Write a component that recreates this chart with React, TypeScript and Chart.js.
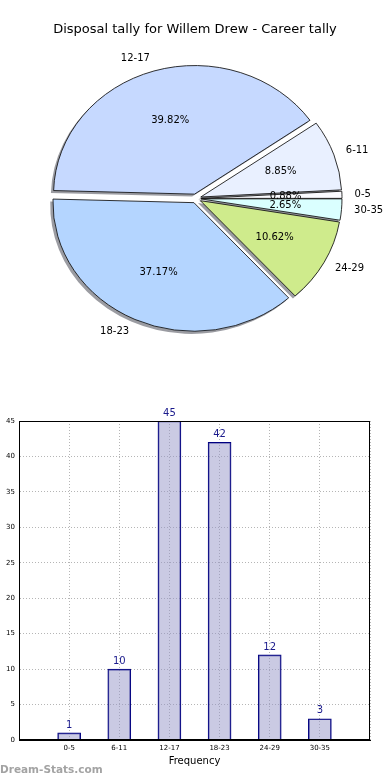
import React, { useEffect, useRef } from 'react';
import { Chart, registerables } from 'chart.js';

Chart.register(...registerables);

// ---- data ----
const titleText = 'Disposal tally for Willem Drew - Career tally';
const categories = ['0-5', '6-11', '12-17', '18-23', '24-29', '30-35'];
const frequencies = [1, 10, 45, 42, 12, 3];
const sliceColors = ['#fbfbff', '#e9f0ff', '#c6d9ff', '#b4d5ff', '#cfeb8c', '#daffff'];
const yTickStep = 5;
const yMax = 45;
const xAxisTitle = 'Frequency';
const watermark = 'Dream-Stats.com';

// ---- styling constants ----
const FONT = "'DejaVu Sans', sans-serif";
const EXPLODE = 5;
const PIE_R = 141;
const PIE_SY = 0.912;

const total = frequencies.reduce((a, b) => a + b, 0);
// Chart.js draws clockwise; the reference goes counter-clockwise from 3 o'clock.
const pieLabels = [...categories].reverse();
const pieValues = [...frequencies].reverse();
const pieColors = [...sliceColors].reverse();

const piePlugin = {
  id: 'pieDecor',
  beforeDatasetsDraw(chart: any) {
    const ctx = chart.ctx;
    const meta = chart.getDatasetMeta(0);
    meta.data.forEach((el: any) => {
      if (!el.__exploded) {
        const base = el.draw;
        el.draw = function (c: CanvasRenderingContext2D, area: any) {
          const mid = (this.startAngle + this.endAngle) / 2;
          c.save();
          c.translate(Math.cos(mid) * EXPLODE, Math.sin(mid) * EXPLODE);
          base.call(this, c, area);
          c.restore();
        };
        el.__exploded = true;
      }
    });
    const cy = meta.data[0].y;
    ctx.save();
    ctx.translate(0, cy);
    ctx.scale(1, PIE_SY);
    ctx.translate(0, -cy);
    // shadows (beneath every wedge)
    meta.data.forEach((el: any) => {
      const mid = (el.startAngle + el.endAngle) / 2;
      const ox = el.x + Math.cos(mid) * EXPLODE - 2.4;
      const oy = el.y + Math.sin(mid) * EXPLODE + 2.6;
      ctx.beginPath();
      ctx.moveTo(ox, oy);
      ctx.arc(ox, oy, el.outerRadius + 0.3, el.startAngle, el.endAngle);
      ctx.closePath();
      ctx.fillStyle = 'rgba(45,48,60,0.48)';
      ctx.fill();
    });
  },
  afterDatasetsDraw(chart: any) {
    const ctx = chart.ctx;
    ctx.restore();
    const meta = chart.getDatasetMeta(0);
    const cx = meta.data[0].x;
    const cy = meta.data[0].y;
    const toY = (y: number) => cy + (y - cy) * PIE_SY;
    ctx.save();
    ctx.fillStyle = '#000';
    ctx.textBaseline = 'middle';
    ctx.font = `10px ${FONT}`;
    meta.data.forEach((el: any, i: number) => {
      const mid = (el.startAngle + el.endAngle) / 2;
      const c = Math.cos(mid);
      const s = Math.sin(mid);
      const ex = cx + c * EXPLODE;
      const ey = cy + s * EXPLODE;
      const R = el.outerRadius;
      ctx.textAlign = c > 0 ? 'left' : 'right';
      ctx.fillText(pieLabels[i], ex + 1.1 * R * c - (c > 0 ? 1.5 : 0), toY(ey + 1.1 * R * s));
      ctx.textAlign = 'center';
      const pct = ((pieValues[i] / total) * 100).toFixed(2) + '%';
      ctx.fillText(pct, ex + 0.6 * R * c, toY(ey + 0.6 * R * s));
    });
    ctx.font = `13px ${FONT}`;
    ctx.textAlign = 'center';
    ctx.fillText(titleText, 195, 30);
    ctx.restore();
  },
};

const barPlugin = {
  id: 'barDecor',
  afterDatasetsDraw(chart: any) {
    const ctx = chart.ctx;
    const meta = chart.getDatasetMeta(0);
    ctx.save();
    ctx.fillStyle = '#1a1a8c';
    ctx.font = `10px ${FONT}`;
    ctx.textAlign = 'center';
    ctx.textBaseline = 'bottom';
    meta.data.forEach((el: any, i: number) => {
      const v = chart.data.datasets[0].data[i];
      if (v == null) return;
      ctx.fillText(String(v), el.x, el.y - 3);
    });
    ctx.restore();
  },
  afterDraw(chart: any) {
    const ctx = chart.ctx;
    const a = chart.chartArea;
    ctx.save();
    ctx.strokeStyle = '#000';
    ctx.lineWidth = 1;
    ctx.strokeRect(Math.round(a.left) + 0.5, Math.round(a.top) + 0.5, Math.round(a.right - a.left) - 1, Math.round(a.bottom - a.top) - 1);
    ctx.fillStyle = '#a3a3a3';
    ctx.font = `bold 10.5px ${FONT}`;
    ctx.textAlign = 'left';
    ctx.textBaseline = 'middle';
    ctx.fillText(watermark, 0, chart.height - 10);
    ctx.restore();
  },
};

export default function App() {
  const pieRef = useRef<HTMLCanvasElement>(null);
  const barRef = useRef<HTMLCanvasElement>(null);

  useEffect(() => {
    const pie = new Chart(pieRef.current!, {
      type: 'pie',
      data: {
        labels: pieLabels,
        datasets: [
          {
            data: pieValues,
            backgroundColor: pieColors,
            borderColor: '#111',
            borderWidth: 0.9,
            radius: PIE_R,
            clip: false,
          } as any,
        ],
      },
      options: {
        responsive: false,
        animation: false,
        rotation: 90,
        layout: { padding: { left: 2, right: 0, top: 1, bottom: 0 } },
        plugins: { legend: { display: false }, tooltip: { enabled: false } },
        events: [],
      } as any,
      plugins: [piePlugin],
    });

    const bar = new Chart(barRef.current!, {
      type: 'bar',
      data: {
        labels: ['', ...categories, ''],
        datasets: [
          {
            data: [null, ...frequencies, null],
            backgroundColor: 'rgba(150,150,200,0.5)',
            borderColor: '#000080',
            borderWidth: 1,
            barThickness: 23,
          } as any,
        ],
      },
      options: {
        responsive: false,
        animation: false,
        events: [],
        layout: { padding: { top: 21, right: 20, left: 0, bottom: 0 } },
        plugins: { legend: { display: false }, tooltip: { enabled: false } },
        scales: {
          x: {
            offset: false,
            grid: { offset: false, color: '#b5b5b5', lineWidth: 1, drawTicks: false },
            border: { color: '#000', width: 1, dash: [1, 2] },
            ticks: {
              font: { family: FONT, size: 7 },
              color: '#000',
              padding: 4,
              maxRotation: 0,
              autoSkip: false,
            },
            title: {
              display: true,
              text: xAxisTitle,
              font: { family: FONT, size: 10 },
              color: '#000',
              padding: { top: 0, bottom: 13 },
            },
            afterFit: (s: any) => {
              s.height = 40;
            },
          },
          y: {
            min: 0,
            max: yMax,
            grid: { color: '#b5b5b5', lineWidth: 1, drawTicks: false },
            border: { color: '#000', width: 1, dash: [1, 2] },
            ticks: {
              stepSize: yTickStep,
              font: { family: FONT, size: 7 },
              color: '#000',
              padding: 4,
            },
            afterFit: (s: any) => {
              s.width = 19;
            },
          },
        },
      } as any,
      plugins: [barPlugin],
    });

    return () => {
      pie.destroy();
      bar.destroy();
    };
  }, []);

  return (
    <div style={{ position: 'absolute', left: 0, top: 0, width: 390, height: 780, background: '#fff' }}>
      <canvas ref={pieRef} width={390} height={396} style={{ position: 'absolute', left: 0, top: 0, display: 'block' }} />
      <canvas ref={barRef} width={390} height={380} style={{ position: 'absolute', left: 0, top: 400, display: 'block' }} />
    </div>
  );
}
